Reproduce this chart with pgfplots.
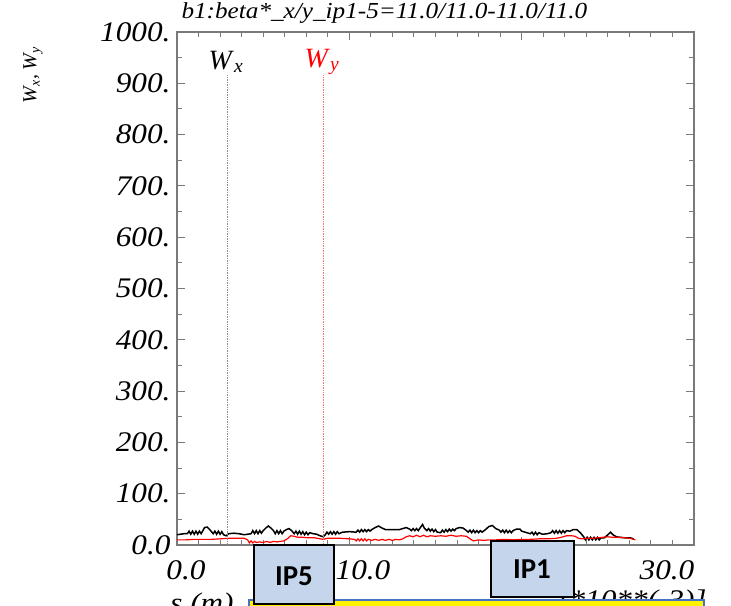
\documentclass[border=0pt]{standalone}
\usepackage{pgfplots}
\pgfplotsset{compat=1.18}
\usepackage{fontspec}
\setmainfont{Liberation Serif}
\newfontfamily\tickfont{Liberation Serif}[FakeStretch=1.1]
\newfontfamily\ipfont{Carlito}
\definecolor{axgray}{HTML}{7A7A7A}
\definecolor{ipblue}{HTML}{C5D5EB}
\definecolor{ybord}{HTML}{4472C4}
\begin{document}
\begin{tikzpicture}
\path[use as bounding box] (0bp,0bp) rectangle (731bp,606bp);
\clip (0bp,0bp) rectangle (731bp,606bp);
\begin{axis}[
  at={(177bp,61bp)}, anchor=south west,
  scale only axis, width=517bp, height=513bp,
  xmin=0, xmax=30, ymin=0, ymax=1000,
  axis line style={axgray, line width=1.2pt},
  xtick={0,10,20,30}, xticklabels={},
  minor x tick num=7,
  ytick={0,100,...,1000},
  yticklabels={0.0,100.,200.,300.,400.,500.,600.,700.,800.,900.,1000.},
  minor y tick num=1,
  tick align=inside,
  major tick length=8bp, minor tick length=5bp,
  every tick/.style={axgray, line width=1pt},
  yticklabel style={font=\tickfont\itshape\fontsize{28.5}{28.5}\selectfont, xshift=-3bp},
  /pgf/number format/assume math mode=true,
  clip=false,
]
\addplot[black, line width=1.5pt] coordinates {
(0,20)(0.2,21)(0.4,22)(0.6,22)
(0.7,27)(0.8,21)(0.9,27)(1.0,21)(1.1,27)(1.2,21)(1.3,27)(1.4,22)
(1.5,28)(1.6,34)(1.75,35)(1.9,30)(2.0,26)
(2.1,22)(2.2,27)(2.3,21)(2.4,27)(2.5,21)(2.6,26)(2.7,20)
(2.85,18)(3.0,22)
(3.3,23)(3.6,22)(3.9,20)(4.1,21)(4.3,22)
(4.4,28)(4.5,22)(4.6,28)(4.7,22)(4.8,28)(4.9,23)(5.0,28)
(5.15,33)(5.3,37)(5.45,33)(5.6,28)
(5.7,22)(5.8,28)(5.9,22)(6.0,28)(6.1,22)(6.2,27)
(6.35,30)(6.5,32)(6.65,28)
(6.8,22)(6.9,27)(7.0,21)(7.1,27)(7.2,21)(7.3,26)(7.4,20)(7.5,25)(7.6,20)(7.7,24)
(7.9,22)(8.1,21)(8.3,18)(8.5,16)(8.6,20)
(8.7,25)(8.8,21)(8.9,26)(9.0,21)(9.1,26)(9.2,21)(9.3,26)(9.4,22)(9.6,25)
(10.0,26)(10.4,25)
(10.5,29)(10.6,25)(10.7,30)(10.8,26)(10.9,30)(11.0,26)(11.1,30)(11.2,27)(11.3,30)
(11.5,34)(11.7,37)(11.9,33)(12.1,30)
(12.5,30)(12.9,30)(13.1,32)(13.3,34)(13.5,31)
(13.6,28)(13.7,32)(13.8,28)(13.9,32)(14.0,28)(14.1,33)
(14.25,40)(14.35,33)
(14.5,28)(14.6,32)(14.7,27)(14.8,31)(14.9,26)(15.0,30)(15.1,25)
(15.3,24)
(15.4,29)(15.5,25)(15.6,30)(15.7,26)(15.8,31)(15.9,27)(16.0,31)(16.1,28)(16.2,32)
(16.4,34)(16.6,33)(16.8,28)
(16.9,25)(17.0,29)(17.1,24)(17.2,29)(17.3,24)(17.4,28)(17.5,24)(17.6,28)(17.7,25)(17.9,30)
(18.1,36)(18.3,38)(18.5,32)(18.7,29)
(18.8,25)(18.9,29)(19.0,24)(19.1,29)(19.2,24)(19.3,28)(19.4,24)(19.5,28)
(19.7,31)(19.9,31)(20.0,27)
(20.3,24)(20.5,22)(20.6,25)(20.7,20)(20.8,25)(20.9,20)(21.0,24)(21.2,21)(21.5,22)
(21.7,24)(21.8,28)(21.9,23)(22.0,28)(22.1,23)(22.2,28)(22.3,23)(22.4,28)(22.5,24)(22.6,28)(22.8,27)
(23.0,30)(23.2,30)(23.4,24)
(23.6,16)(23.7,10)(23.8,15)(23.9,10)(24.0,15)(24.1,10)(24.2,15)(24.3,10)(24.4,15)(24.5,10)(24.6,14)(24.8,14)
(25.0,20)(25.15,25)(25.3,20)(25.5,16)
(25.7,15)(26.0,14)(26.3,14)(26.5,12)
};
\addplot[red, line width=1.2pt] coordinates {
(0,10)(0.5,10)(1.0,11)(1.5,11)(2.0,11)(2.5,12)(3.0,13)(3.5,13)(3.9,13)(4.1,10)
(4.2,4)(4.3,8)(4.4,4)(4.5,7)(4.6,5)(4.8,6)(5.0,5)(5.2,7)(5.4,5)(5.6,7)(5.8,6)(6.0,7)(6.2,8)
(6.4,12)(6.6,18)(6.8,17)(7.0,15)
(7.3,15)(7.6,14)(8.0,14)(8.3,12)(8.5,11)(8.7,13)(9.0,13)(9.5,13)(10.0,12)(10.3,11)
(10.4,8)(10.5,12)(10.6,8)(10.7,12)(10.8,8)(10.9,12)(11.0,8)(11.1,11)(11.3,9)(11.5,11)(11.7,9)(11.9,11)(12.1,9)(12.3,11)(12.5,9)(12.7,11)(12.9,10)(13.1,12)
(13.3,16)(13.5,18)
(13.7,16)(13.9,19)(14.1,16)(14.3,19)(14.5,16)(14.7,18)(15.0,17)(15.3,18)(15.6,17)(15.9,19)(16.2,17)(16.5,18)(16.8,17)
(17.0,12)(17.2,8)(17.5,10)(17.8,9)(18.1,10)
(18.5,10)(19.0,11)(19.5,10)(20.0,11)
(20.5,11)(21.0,12)(21.5,12)(22.0,13)(22.3,15)(22.6,18)(22.9,18)(23.1,17)(23.3,13)(23.5,12)(23.8,13)(24.1,13)(24.4,14)(24.7,15)(25.0,16)(25.3,15)(25.6,15)(26.0,14)(26.3,13)(26.6,10)
};
\addplot[black!45, densely dotted, line width=0.7pt] coordinates {(2.9,0)(2.9,916)};
\addplot[red!55, densely dotted, line width=0.7pt] coordinates {(8.5,0)(8.5,916)};
\end{axis}
% x tick labels
\begin{scope}[every node/.style={font=\tickfont\itshape\fontsize{28.5}{28.5}\selectfont}]
\node at (186bp,36bp) {0.0};
\node at (363bp,36bp) {10.0};
\node at (540bp,36bp) {20.0};
\node at (667bp,36bp) {30.0};
\node at (202bp,0bp) {s (m)};
\node at (632bp,3bp) {[*10**(-3)]};
\end{scope}
% title
\node[anchor=west, font=\tickfont\itshape\fontsize{23}{23}\selectfont] at (178bp,593bp) {b1:beta*\_x/y\_ip1-5=11.0/11.0-11.0/11.0};
% y label
\node[rotate=90, font=\itshape\fontsize{20}{20}\selectfont] at (33bp,531bp) {W\textsubscript{x}, W\textsubscript{y}};
% legend labels
\node[font=\fontsize{28}{28}\selectfont] at (226bp,544bp) {\textit{W}\textsubscript{\textit{x}}};
\node[red, font=\fontsize{28}{28}\selectfont] at (322bp,544bp) {\textit{W}\textsubscript{\textit{y}}};
% yellow box
\draw[ybord, fill=yellow, line width=1.2pt] (249bp,-20bp) rectangle (704bp,6bp);
% IP boxes
\draw[black, fill=ipblue, line width=1.5pt] (254bp,2bp) rectangle (334bp,61bp);
\node[font=\ipfont\bfseries\fontsize{29}{29}\selectfont] at (294bp,30bp) {IP5};
\draw[black, fill=ipblue, line width=1.5pt] (491bp,9bp) rectangle (574bp,65bp);
\node[font=\ipfont\bfseries\fontsize{29}{29}\selectfont] at (532bp,37bp) {IP1};
\end{tikzpicture}
\end{document}
